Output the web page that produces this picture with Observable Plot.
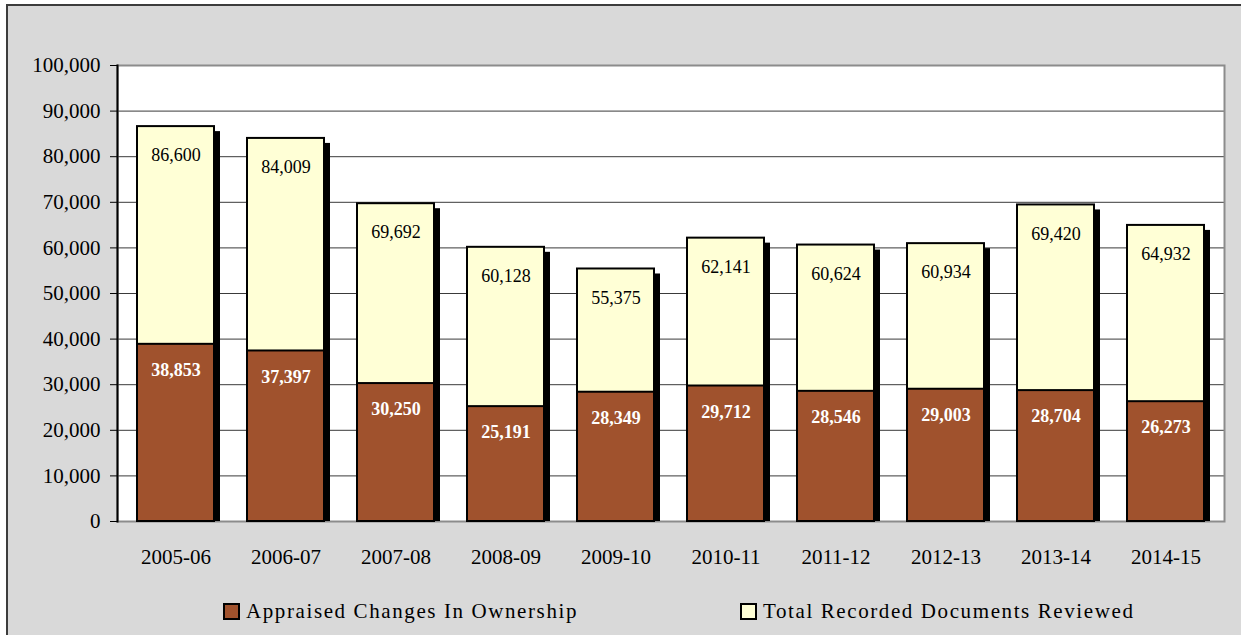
<!DOCTYPE html>
<html><head><meta charset="utf-8">
<script src="https://cdn.jsdelivr.net/npm/d3@7"></script>
<script src="https://cdn.jsdelivr.net/npm/@observablehq/plot@0.6"></script>
<style>
body{margin:0;background:#fff;}
#wrap{position:relative;width:1241px;height:635px;overflow:hidden;font-family:"Liberation Serif",serif;}
#panel{position:absolute;left:6px;top:4px;width:1240px;height:640px;background:#d9d9d9;border:2px solid #3c3c3c;box-sizing:border-box;}
#chart{position:absolute;left:0;top:0;}
.leg{position:absolute;top:600px;font-size:21px;letter-spacing:1.6px;color:#000;display:flex;align-items:center;line-height:22px;}
.sw{display:inline-block;width:13px;height:13px;border:2px solid #000;margin-right:6px;}
</style></head>
<body><div id="wrap"><div id="panel"></div><div id="chart"></div>
<div class="leg" style="left:223px"><span class="sw" style="background:#a0522d"></span>Appraised Changes In Ownership</div>
<div class="leg" style="left:740px"><span class="sw" style="background:#ffffd6"></span>Total Recorded Documents Reviewed</div>
</div>
<script>
const years = ["2005-06","2006-07","2007-08","2008-09","2009-10","2010-11","2011-12","2012-13","2013-14","2014-15"];
const appraised = [38853,37397,30250,25191,28349,29712,28546,29003,28704,26273];
const totalReviewed = [86600,84009,69692,60128,55375,62141,60624,60934,69420,64932];
const yTicks = [0,10000,20000,30000,40000,50000,60000,70000,80000,90000,100000];
const data = years.map((year,i)=>({year, appraised: appraised[i], total: totalReviewed[i]}));
const fmt = d3.format(",");
const chart = Plot.plot({
  width:1241, height:590, marginLeft:117, marginRight:17, marginTop:65, marginBottom:69,
  style:{background:"transparent", fontFamily:"'Liberation Serif', serif", color:"#000"},
  x:{domain:years, paddingInner:0.3, paddingOuter:0.15, label:null},
  y:{domain:[0,100000], label:null},
  marks:[
    Plot.frame({fill:"#fff", stroke:"none"}),
    Plot.ruleY(yTicks.filter(d=>d>0&&d<100000), {stroke:"#3a3a3a", strokeWidth:1}),
    Plot.frame({stroke:"#8c8c8c", strokeWidth:2}),
    Plot.frame({anchor:"left", stroke:"#000", strokeWidth:2}),
    Plot.rectY(data,{x:"year", y:"total", fill:"#000", dx:6, insetTop:5}),
    Plot.rectY(data,{x:"year", y:"total", fill:"#ffffd6", stroke:"#000", strokeWidth:2}),
    Plot.rectY(data,{x:"year", y:"appraised", fill:"#a0522d", stroke:"#000", strokeWidth:2}),
    Plot.text(data,{x:"year", y:"total", text:d=>fmt(d.total), dy:29, fontSize:18, fill:"#000"}),
    Plot.text(data,{x:"year", y:"appraised", text:d=>fmt(d.appraised), dy:26, fontSize:18, fill:"#fff", fontWeight:"bold"}),
    Plot.axisY({ticks:yTicks, tickFormat:fmt, tickSize:7, tickPadding:10, fontSize:21, color:"#000", label:null}),
    Plot.axisX({tickSize:0, tickPadding:28, fontSize:21, color:"#000", label:null, letterSpacing:0.5})
  ]
});
document.getElementById("chart").appendChild(chart);
</script>
</body></html>
